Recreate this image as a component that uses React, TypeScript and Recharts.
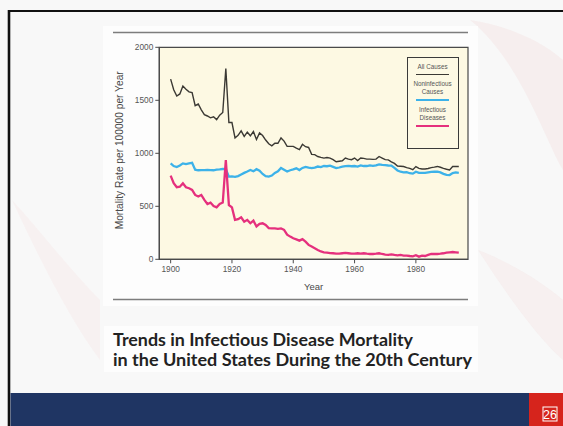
import React from 'react';
import { LineChart, Line, XAxis, YAxis, ReferenceArea, Legend } from 'recharts';

// Annual US mortality per 100,000, 1900–1994
const years = [
  1900, 1901, 1902, 1903, 1904, 1905, 1906, 1907, 1908, 1909,
  1910, 1911, 1912, 1913, 1914, 1915, 1916, 1917, 1918, 1919,
  1920, 1921, 1922, 1923, 1924, 1925, 1926, 1927, 1928, 1929,
  1930, 1931, 1932, 1933, 1934, 1935, 1936, 1937, 1938, 1939,
  1940, 1941, 1942, 1943, 1944, 1945, 1946, 1947, 1948, 1949,
  1950, 1951, 1952, 1953, 1954, 1955, 1956, 1957, 1958, 1959,
  1960, 1961, 1962, 1963, 1964, 1965, 1966, 1967, 1968, 1969,
  1970, 1971, 1972, 1973, 1974, 1975, 1976, 1977, 1978, 1979,
  1980, 1981, 1982, 1983, 1984, 1985, 1986, 1987, 1988, 1989,
  1990, 1991, 1992, 1993, 1994,
];

const allCauses = [
  1700, 1600, 1540, 1560, 1635, 1605, 1580, 1572, 1450, 1465,
  1410, 1365, 1352, 1335, 1345, 1318, 1360, 1385, 1800, 1290,
  1290, 1145, 1170, 1212, 1160, 1200, 1165, 1205, 1130, 1192,
  1168, 1125, 1090, 1070, 1095, 1095, 1145, 1115, 1065, 1065,
  1065, 1048, 1035, 1085, 1062, 1055, 990, 988, 970, 962,
  955, 960, 955, 940, 920, 925, 930, 955, 945, 940,
  955, 932, 955, 952, 945, 945, 943, 945, 970, 955,
  940, 938, 920, 905, 880, 878, 875, 865, 858, 845,
  875, 858, 852, 852, 857, 865, 870, 876, 868, 858,
  850, 843, 875, 875, 876,
];

const nonInfectious = [
  905, 880, 870, 885, 905, 898, 905, 910, 845, 840,
  842, 842, 843, 842, 840, 845, 848, 852, 850, 780,
  782, 778, 785, 800, 815, 828, 842, 830, 850, 835,
  805, 785, 780, 790, 815, 830, 862, 845, 828, 840,
  848, 858, 842, 862, 872, 865, 860, 865, 875, 870,
  880, 878, 883, 872, 860, 866, 875, 880, 882, 878,
  880, 875, 886, 880, 880, 886, 882, 886, 896, 890,
  888, 885, 884, 862, 838, 826, 820, 822, 812, 808,
  826, 815, 815, 815, 820, 825, 826, 826, 820, 806,
  796, 795, 814, 820, 815,
];

const infectious = [
  790, 718, 680, 685, 717, 680, 670, 655, 607, 592,
  607, 560, 522, 535, 503, 490, 522, 535, 935, 512,
  490, 372, 378, 396, 355, 372, 340, 365, 310, 335,
  340, 324, 295, 292, 292, 288, 292, 278, 232, 214,
  198, 188, 176, 190, 167, 136, 120, 104, 88, 74,
  66, 63, 58, 57, 54, 53, 57, 60, 57, 53,
  53, 57, 53, 57, 53, 50, 50, 53, 57, 50,
  44, 41, 47, 41, 38, 41, 35, 35, 31, 28,
  38, 25, 35, 31, 41, 50, 50, 50, 53, 57,
  63, 66, 69, 66, 63,
];

const yearTicks = [1900, 1920, 1940, 1960, 1980];
const rateTicks = [0, 500, 1000, 1500, 2000];
const xDomain: [number, number] = [1896.3, 1997];
const yDomain: [number, number] = [0, 2000];

const seriesOrder = ['all', 'non', 'inf'];
const legendLines: Record<string, string[]> = {
  all: ['All Causes'],
  non: ['Noninfectious', 'Causes'],
  inf: ['Infectious', 'Diseases'],
};

const titleLines = [
  'Trends in Infectious Disease Mortality',
  'in the United States During the 20th Century',
];

const data = years.map((year, i) => ({
  year,
  all: allCauses[i],
  non: nonInfectious[i],
  inf: infectious[i],
}));

const AXIS_FONT = '"Liberation Sans", Arial, sans-serif';

const LegendBox = (props: any) => {
  const payload = [...(props.payload || [])].sort(
    (a: any, b: any) => seriesOrder.indexOf(a.dataKey) - seriesOrder.indexOf(b.dataKey)
  );
  return (
    <div
      style={{
        width: 50,
        height: 85,
        border: '1.3px solid #3a3a3a',
        background: '#fdf9e4',
        boxSizing: 'content-box',
        fontFamily: AXIS_FONT,
        fontSize: 6.3,
        color: '#555',
        textAlign: 'center',
        lineHeight: '8px',
        paddingTop: 5,
      }}
    >
      {payload.map((entry: any) => (
        <div key={entry.dataKey} style={{ marginBottom: 5 }}>
          {(legendLines[entry.dataKey] || [entry.value]).map((t: string) => (
            <div key={t}>{t}</div>
          ))}
          <div
            style={{
              width: 33,
              height: entry.dataKey === 'all' ? 1.4 : 2.2,
              background: entry.color,
              margin: '3px auto 0',
            }}
          />
        </div>
      ))}
    </div>
  );
};

const YTitle = (props: any) => {
  const { x, y, height } = props.viewBox;
  const cx = x + 20;
  const cy = y + height / 2 - 3;
  return (
    <text
      x={cx}
      y={cy}
      transform={`rotate(-90 ${cx} ${cy})`}
      textAnchor="middle"
      dominantBaseline="central"
      fontFamily={AXIS_FONT}
      fontSize={10.2}
      fill="#4a4a4a"
    >
      Mortality Rate per 100000 per Year
    </text>
  );
};

const XTitle = (props: any) => {
  const { x, y, width } = props.viewBox;
  return (
    <text
      x={x + width / 2}
      y={y + 27.5}
      textAnchor="middle"
      dominantBaseline="central"
      fontFamily={AXIS_FONT}
      fontSize={9.5}
      fill="#4a4a4a"
    >
      Year
    </text>
  );
};

export default function App() {
  return (
    <div
      style={{
        position: 'fixed',
        left: 0,
        top: 0,
        width: 563,
        height: 426,
        overflow: 'hidden',
        background: '#f8f8f8',
      }}
    >
      <svg width={563} height={426} style={{ position: 'absolute', left: 0, top: 0 }}>
        {/* faint decorative swooshes of the slide template */}
        <path d="M470 20 C 520 60, 545 140, 563 170 L 563 60 C 540 40, 505 25, 470 20 Z" fill="#f3d6d6" opacity={0.3} />
        <path d="M478 250 C 510 300, 540 340, 563 360 L 563 300 C 540 280, 505 260, 478 250 Z" fill="#f3d6d6" opacity={0.25} />
        <path d="M12 200 C 40 260, 70 320, 100 360 L 100 300 C 70 270, 40 230, 12 200 Z" fill="#f3d6d6" opacity={0.2} />
        <rect x={103} y={26} width={375} height={280} fill="#fdfdfd" />
        <rect x={104} y={326} width={374} height={46} fill="#fdfdfd" />
        {/* slide frame */}
        <line x1={8} y1={11} x2={563} y2={11} stroke="#111" strokeWidth={2.2} />
        <line x1={9} y1={10} x2={9} y2={426} stroke="#111" strokeWidth={2.6} />
        {/* rules around the figure */}
        <line x1={113} y1={32.5} x2={468} y2={32.5} stroke="#7d7d7d" strokeWidth={1.6} />
        <line x1={113} y1={299.5} x2={468} y2={299.5} stroke="#7d7d7d" strokeWidth={1.6} />
        {/* caption */}
        <text x={113} y={346} fontFamily='Lato, "Open Sans", sans-serif' fontWeight={700} fontSize={16.5}
          fill="#222" textLength={300} lengthAdjust="spacingAndGlyphs">{titleLines[0]}</text>
        <text x={113} y={366} fontFamily='Lato, "Open Sans", sans-serif' fontWeight={700} fontSize={16.5}
          fill="#222" textLength={359} lengthAdjust="spacingAndGlyphs">{titleLines[1]}</text>
        {/* footer */}
        <rect x={10.5} y={393} width={519} height={33} fill="#1f3563" />
        <rect x={529} y={393} width={34} height={33} fill="#d6241c" />
        <rect x={543} y={407} width={14} height={14} fill="none" stroke="#fff" strokeWidth={1} />
        <text x={550} y={418.5} textAnchor="middle" fontFamily={AXIS_FONT} fontSize={12.5} fill="#fff">26</text>
      </svg>

      <div style={{ position: 'absolute', left: 100, top: 30 }}>
        <LineChart
          width={380}
          height={280}
          data={data}
          margin={{ top: 17.3, right: 12, bottom: 0, left: 0 }}
        >
          <ReferenceArea
            x1={xDomain[0]}
            x2={xDomain[1]}
            y1={yDomain[0]}
            y2={yDomain[1]}
            fill="#fdf9e3"
            fillOpacity={1}
            stroke="#4a4a4a"
            strokeWidth={1.2}
          />
          <XAxis
            dataKey="year"
            type="number"
            domain={xDomain}
            ticks={yearTicks}
            allowDataOverflow
            height={50.7}
            tickSize={4}
            tickMargin={3}
            axisLine={{ stroke: '#4a4a4a', strokeWidth: 1.2 }}
            tickLine={{ stroke: '#4a4a4a' }}
            tick={{ fontSize: 8.3, fill: '#555', fontFamily: AXIS_FONT }}
            label={<XTitle />}
          />
          <YAxis
            type="number"
            domain={yDomain}
            ticks={rateTicks}
            allowDataOverflow
            width={59.3}
            tickSize={4}
            tickMargin={2}
            axisLine={{ stroke: '#4a4a4a', strokeWidth: 1.2 }}
            tickLine={{ stroke: '#4a4a4a' }}
            tick={{ fontSize: 8.3, fill: '#555', fontFamily: AXIS_FONT }}
            label={<YTitle />}
          />
          <Legend
            layout="horizontal"
            verticalAlign="middle"
            align="center"
            content={<LegendBox />}
            wrapperStyle={{ left: 306.5, top: 26.5, width: 53, height: 92 }}
          />
          <Line
            dataKey="all"
            name="All Causes"
            stroke="#3b3934"
            strokeWidth={1.4}
            dot={false}
            type="linear"
            isAnimationActive={false}
          />
          <Line
            dataKey="non"
            name="Noninfectious Causes"
            stroke="#3cb2e9"
            strokeWidth={2.3}
            dot={false}
            type="linear"
            isAnimationActive={false}
          />
          <Line
            dataKey="inf"
            name="Infectious Diseases"
            stroke="#e5307d"
            strokeWidth={2.3}
            dot={false}
            type="linear"
            isAnimationActive={false}
          />
        </LineChart>
      </div>
    </div>
  );
}
